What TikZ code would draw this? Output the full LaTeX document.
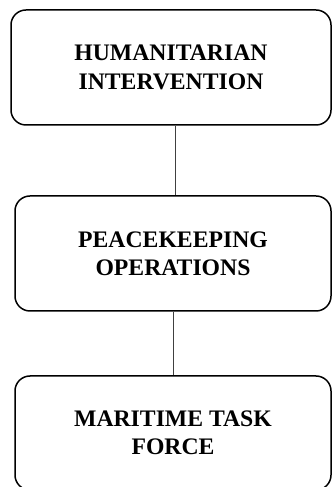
\documentclass[tikz,border=0pt]{standalone}
\usepackage{fontspec}
\setmainfont{Liberation Serif}
\begin{document}
\begin{tikzpicture}[x=1pt,y=1pt,
  boxstyle/.style={draw=black, line width=1.5pt, rounded corners=15pt, rectangle,
    align=center, font=\fontsize{23.7}{28.4}\selectfont\bfseries, inner sep=0pt},
  linkstyle/.style={draw=black!75, line width=0.8pt}]
\useasboundingbox (0,0) rectangle (332,487);
\clip (0,0) rectangle (332,487);
\node[boxstyle, minimum width=320pt, minimum height=115pt] (a) at (171,419.5) {HUMANITARIAN\\INTERVENTION};
\node[boxstyle, minimum width=316pt, minimum height=115pt] (b) at (173,233.5) {PEACEKEEPING\\OPERATIONS};
\node[boxstyle, minimum width=316pt, minimum height=114pt] (c) at (173,54) {MARITIME TASK\\FORCE};
\coordinate (c1) at (175.5,0);
\coordinate (c2) at (173,0);
\draw[linkstyle] (a.south -| c1) -- (b.north -| c1);
\draw[linkstyle] (b.south -| c2) -- (c.north -| c2);
\end{tikzpicture}
\end{document}
